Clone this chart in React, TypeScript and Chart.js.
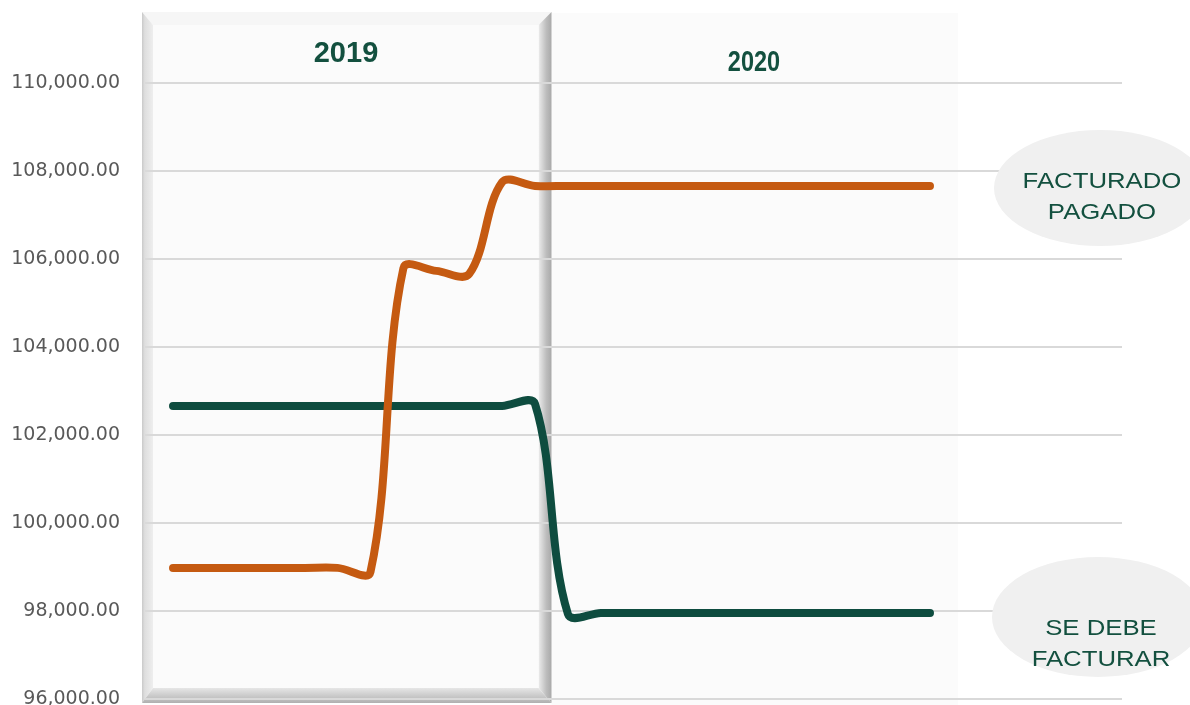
import React, { useEffect, useRef } from 'react';
import { Chart, registerables } from 'chart.js';

Chart.register(...registerables);

// ---- data ----
const months = [
  'Ene 2019', 'Feb 2019', 'Mar 2019', 'Abr 2019', 'May 2019', 'Jun 2019',
  'Jul 2019', 'Ago 2019', 'Sep 2019', 'Oct 2019', 'Nov 2019', 'Dic 2019',
  'Ene 2020', 'Feb 2020', 'Mar 2020', 'Abr 2020', 'May 2020', 'Jun 2020',
  'Jul 2020', 'Ago 2020', 'Sep 2020', 'Oct 2020', 'Nov 2020', 'Dic 2020',
];

const facturadoPagado = [
  98980, 98980, 98980, 98980, 98980, 98980,
  98890, 105790, 105730, 105660, 107745, 107660,
  107660, 107660, 107660, 107660, 107660, 107660,
  107660, 107660, 107660, 107660, 107660, 107660,
];

const seDebeFacturar = [
  102660, 102660, 102660, 102660, 102660, 102660,
  102660, 102660, 102660, 102660, 102660, 102705,
  97930, 97955, 97955, 97955, 97955, 97955,
  97955, 97955, 97955, 97955, 97955, 97955,
];

const yTickValues = [96000, 98000, 100000, 102000, 104000, 106000, 108000, 110000];

const periodLabels = ['2019', '2020'];
const seriesNames = [['FACTURADO', 'PAGADO'], ['SE DEBE', 'FACTURAR']];

const ORANGE = '#c55a11';
const GREEN = '#0e4c3f';
const TEXT_GREEN = '#13503f';

const W = 1190;
const H = 705;

export default function App() {
  const ref = useRef<HTMLCanvasElement | null>(null);

  useEffect(() => {
    if (!ref.current) return;

    const decor = {
      id: 'decor',
      beforeDraw(chart: any) {
        const ctx = chart.ctx as CanvasRenderingContext2D;
        ctx.save();
        ctx.fillStyle = '#ffffff';
        ctx.fillRect(0, 0, chart.width, chart.height);

        const xs = chart.scales.x;
        const split = xs.getPixelForValue(11.5);
        const right2020 = xs.getPixelForValue(23.85);
        // 2020 panel (flat, very faint)
        ctx.fillStyle = '#fbfbfb';
        ctx.fillRect(split, 13, right2020 - split, H - 13);

        // 2019 panel, bevelled
        const x0 = chart.chartArea.left - 3;
        const x1 = split;
        const y0 = 12;
        const y1 = 703;
        const xi0 = x0 + 11;
        const xi1 = x1 - 13;
        const yi0 = y0 + 13;
        const yi1 = y1 - 15;

        const poly = (pts: number[][], fill: any) => {
          ctx.beginPath();
          ctx.moveTo(pts[0][0], pts[0][1]);
          for (let i = 1; i < pts.length; i++) ctx.lineTo(pts[i][0], pts[i][1]);
          ctx.closePath();
          ctx.fillStyle = fill;
          ctx.fill();
        };

        // top
        poly([[x0, y0], [x1, y0], [xi1, yi0], [xi0, yi0]], '#f6f6f6');
        // left
        let g = ctx.createLinearGradient(x0, 0, xi0, 0);
        g.addColorStop(0, '#c9c9c9');
        g.addColorStop(0.25, '#dedede');
        g.addColorStop(1, '#eeeeee');
        poly([[x0, y0], [xi0, yi0], [xi0, yi1], [x0, y1]], g);
        // right
        g = ctx.createLinearGradient(xi1, 0, x1, 0);
        g.addColorStop(0, '#ececec');
        g.addColorStop(0.6, '#bdbdbd');
        g.addColorStop(1, '#a9a9a9');
        poly([[x1, y0], [x1, y1], [xi1, yi1], [xi1, yi0]], g);
        // bottom
        g = ctx.createLinearGradient(0, yi1, 0, y1);
        g.addColorStop(0, '#e6e6e6');
        g.addColorStop(0.6, '#c6c6c6');
        g.addColorStop(1, '#b0b0b0');
        poly([[x0, y1], [xi0, yi1], [xi1, yi1], [x1, y1]], g);
        // face
        ctx.fillStyle = '#fbfbfb';
        ctx.fillRect(xi0, yi0, xi1 - xi0, yi1 - yi0);
        ctx.restore();
      },
      afterDraw(chart: any) {
        const ctx = chart.ctx as CanvasRenderingContext2D;
        ctx.save();
        ctx.fillStyle = '#f0f0f0';
        ctx.beginPath();
        ctx.ellipse(1100, 188, 106, 58, 0, 0, Math.PI * 2);
        ctx.fill();
        ctx.beginPath();
        ctx.ellipse(1098, 617, 106, 60, 0, 0, Math.PI * 2);
        ctx.fill();
        ctx.restore();
      },
    };

    const xMin = -0.851;
    const xMax = 28.834;

    const lineStyle = {
      borderWidth: 8,
      tension: 0.35,
      pointRadius: 0,
      borderCapStyle: 'round',
      borderJoinStyle: 'round',
      fill: false,
    };

    const chart = new Chart(ref.current, {
      type: 'line',
      data: {
        datasets: [
          {
            label: seriesNames[0].join(' '),
            data: months.map((m, i) => ({ x: i, y: facturadoPagado[i] })),
            borderColor: ORANGE,
            backgroundColor: ORANGE,
            ...lineStyle,
          },
          {
            label: seriesNames[1].join(' '),
            data: months.map((m, i) => ({ x: i, y: seDebeFacturar[i] })),
            borderColor: GREEN,
            backgroundColor: GREEN,
            ...lineStyle,
          },
        ],
      },
      options: {
        responsive: false,
        animation: false,
        devicePixelRatio: 1,
        layout: { padding: { left: 0, right: 68, top: 0, bottom: 6 } },
        plugins: {
          legend: { display: false },
          tooltip: { enabled: false },
          title: { display: false },
        },
        scales: {
          x: {
            type: 'linear',
            min: xMin,
            max: xMax,
            display: false,
          },
          y: {
            type: 'linear',
            min: 96000,
            max: 111886,
            bounds: 'data',
            afterBuildTicks(scale: any) {
              scale.ticks = yTickValues.map((v) => ({ value: v }));
            },
            afterFit(scale: any) {
              scale.width = 145;
              scale.paddingTop = 0;
              scale.paddingBottom = 0;
            },
            border: { display: false },
            grid: {
              color: '#d9d9d9',
              lineWidth: 2,
              drawTicks: false,
            },
            ticks: {
              padding: 25,
              color: '#595959',
              font: { family: 'DejaVu Sans', size: 19 },
              callback: (v: any) =>
                Number(v).toLocaleString('en-US', {
                  minimumFractionDigits: 2,
                  maximumFractionDigits: 2,
                }),
            },
          },
        },
      },
      plugins: [decor],
    } as any);

    return () => chart.destroy();
  }, []);

  const yearStyle: React.CSSProperties = {
    position: 'absolute',
    fontFamily: '"Liberation Sans", Arial, sans-serif',
    fontWeight: 'bold',
    fontSize: 29,
    color: TEXT_GREEN,
    whiteSpace: 'nowrap',
    lineHeight: '33px',
  };
  const noteStyle: React.CSSProperties = {
    position: 'absolute',
    fontFamily: '"Liberation Sans", Arial, sans-serif',
    fontSize: 22,
    lineHeight: '31px',
    color: TEXT_GREEN,
    textAlign: 'center',
    whiteSpace: 'nowrap',
  };

  return (
    <div style={{ position: 'fixed', left: 0, top: 0, width: W, height: H, overflow: 'hidden', background: '#fff' }}>
      <canvas ref={ref} width={W} height={H} style={{ display: 'block', width: W, height: H }} />
      <div style={{ ...yearStyle, left: 346, top: 52, transform: 'translate(-50%, -50%)' }}>{periodLabels[0]}</div>
      <div style={{ ...yearStyle, left: 754, top: 61, transform: 'translate(-50%, -50%) scaleX(0.81)' }}>{periodLabels[1]}</div>
      <div style={{ ...noteStyle, left: 1102, top: 196, transform: 'translate(-50%, -50%) scaleX(1.17)' }}>
        <div>{seriesNames[0][0]}</div>
        <div>{seriesNames[0][1]}</div>
      </div>
      <div style={{ ...noteStyle, left: 1101, top: 643, transform: 'translate(-50%, -50%) scaleX(1.17)' }}>
        <div>{seriesNames[1][0]}</div>
        <div>{seriesNames[1][1]}</div>
      </div>
    </div>
  );
}
